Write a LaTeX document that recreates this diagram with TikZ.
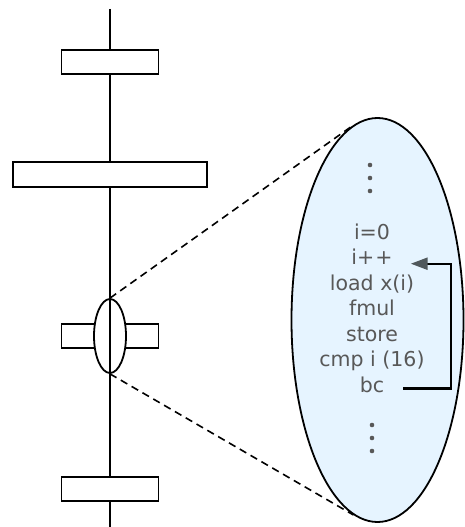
\documentclass[tikz,border=0pt]{standalone}
\usepackage{fontspec}
\setmainfont{DejaVu Sans}
\usetikzlibrary{shapes.geometric,arrows.meta}
\definecolor{bubble}{RGB}{230,244,255}
\definecolor{txt}{RGB}{88,88,88}
\definecolor{tipc}{RGB}{80,88,92}
\begin{document}
\begin{tikzpicture}[x=1pt,y=-1pt,
  block/.style={draw=black,line width=1.8pt,fill=white,minimum width=97pt,minimum height=24pt,inner sep=0pt},
  wideblock/.style={block,minimum width=194pt,minimum height=25pt},
  spine/.style={draw=black,line width=1.6pt},
  zoomline/.style={draw=black,line width=1.6pt,dash pattern=on 7.5pt off 5pt},
  code/.style={text=txt,font=\fontsize{20.5}{24}\selectfont,anchor=base,inner sep=0pt},
  dot/.style={fill=txt},
  loop/.style={draw=black,line width=2.4pt,-{Triangle[length=17pt,width=12pt,color=tipc]}}
]
\useasboundingbox (0,0) rectangle (464,527);
% spine coordinates
\coordinate (top) at (110,9);
\coordinate (bot) at (110,527);
% blocks
\node[block] (b1) at (110,62) {};
\node[wideblock] (b2) at (110,174.5) {};
\node[block] (b3) at (110,336) {};
\node[block] (b4) at (110,489) {};
\node[ellipse,draw=black,line width=1.8pt,fill=white,minimum width=32pt,minimum height=74pt,inner sep=0pt] (se) at (110,336) {};
% spine
\draw[spine] (top) -- (b1.north);
\draw[spine] (b1.south) -- (b2.north);
\draw[spine] (b2.south) -- (se.north);
\draw[spine] (se.north) -- (se.south);
\draw[spine] (se.south) -- (b4.north);
\draw[spine] (b4.south) -- (bot);
% big ellipse
\node[ellipse,draw=black,line width=1.8pt,fill=bubble,minimum width=172pt,minimum height=404pt,inner sep=0pt] (big) at (377.5,320) {};
\draw[zoomline] (se.north) -- (big.97);
\draw[zoomline] (se.south) -- (big.-97);
% dots
\fill[dot] (370,165) circle (2.3);
\fill[dot] (370,178) circle (2.3);
\fill[dot] (370,191) circle (2.3);
\fill[dot] (372,425) circle (2.3);
\fill[dot] (372,438) circle (2.3);
\fill[dot] (372,451) circle (2.3);
% code
\node[code] (l0) at (372,239) {i=0};
\node[code] (inc) at (372,264.5) {i+\kern1pt+};
\node[code] (ld) at (372,290) {load x(i)};
\node[code] (fm) at (372,315.5) {fmul};
\node[code] (st) at (372,341) {store};
\node[code] (cmp) at (372,366.5) {cmp i (16)};
\node[code] (bc) at (372,392) {bc};
\coordinate (loopx) at (451,0);
\draw[loop] ([xshift=19pt,yshift=-4pt]bc.east) -| ([yshift=-7pt]loopx |- inc.east) -- ([xshift=18pt,yshift=-7pt]inc.east);
\end{tikzpicture}
\end{document}
